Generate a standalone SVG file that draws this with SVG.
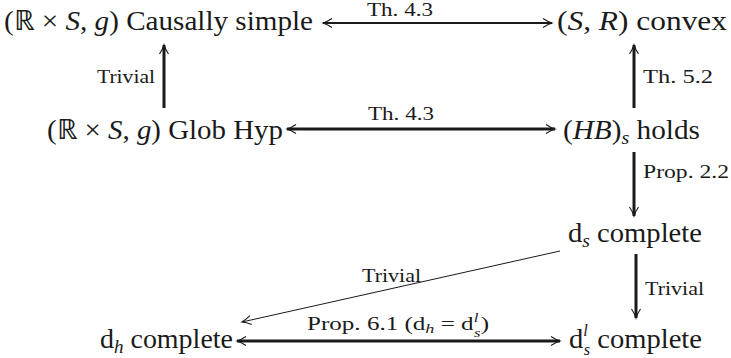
<svg xmlns="http://www.w3.org/2000/svg" width="731" height="358" viewBox="0 0 731 358">
<style>
  .t { font-family: "Liberation Serif", "Times New Roman", serif; font-size: 28px; fill: #1a1a1a; }
  .l { font-family: "Liberation Serif", "Times New Roman", serif; font-size: 18px; fill: #1a1a1a; }
  .i { font-style: italic; }
  .thick { stroke: #1a1a1a; stroke-width: 3; fill: none; }
  .mid { stroke: #1a1a1a; stroke-width: 2.2; fill: none; }
  .thin { stroke: #1a1a1a; stroke-width: 1; fill: none; }
</style>
<defs>
  <marker id="ah" markerUnits="userSpaceOnUse" markerWidth="14" markerHeight="12" viewBox="-10 -6 12 12" refX="0" refY="0" orient="auto-start-reverse">
    <path d="M -9 -4.5 Q -4 -1.2 0 0 Q -4 1.2 -9 4.5" stroke="#1a1a1a" stroke-width="1.1" fill="none"/>
  </marker>
</defs>
<rect width="731" height="358" fill="#ffffff"/>

<g id="n-causal"><text class="t" x="4" y="30" textLength="309" lengthAdjust="spacingAndGlyphs">(ℝ × <tspan class="i">S</tspan>, <tspan class="i">g</tspan>) Causally simple</text></g>
<g id="n-convex"><text class="t" x="557" y="30" textLength="170" lengthAdjust="spacingAndGlyphs">(<tspan class="i">S</tspan>, <tspan class="i">R</tspan>) convex</text></g>
<g id="n-globhyp"><text class="t" x="47" y="139" textLength="236" lengthAdjust="spacingAndGlyphs">(ℝ × <tspan class="i">S</tspan>, <tspan class="i">g</tspan>) Glob Hyp</text></g>
<g id="n-hb"><text class="t" x="563" y="139" textLength="137" lengthAdjust="spacingAndGlyphs">(<tspan class="i">HB</tspan>)<tspan class="i" font-size="19" dy="5">s</tspan><tspan dy="-5"> holds</tspan></text></g>
<g id="n-ds"><text class="t" x="568" y="242" textLength="134" lengthAdjust="spacingAndGlyphs">d<tspan class="i" font-size="19" dy="5">s</tspan><tspan dy="-5"> complete</tspan></text></g>
<g id="n-dh"><text class="t" x="100" y="348" textLength="133" lengthAdjust="spacingAndGlyphs">d<tspan class="i" font-size="19" dy="5">h</tspan><tspan dy="-5"> complete</tspan></text></g>
<g id="n-dsl"><text class="t" x="569" y="348" textLength="133" lengthAdjust="spacingAndGlyphs">d<tspan class="i" font-size="16" dy="-12">l</tspan><tspan class="i" font-size="16" dx="-4" dy="19">s</tspan><tspan dy="-7"> complete</tspan></text></g>

<g id="connectors">
  <line class="mid" x1="323" y1="23" x2="552" y2="23" marker-start="url(#ah)" marker-end="url(#ah)"/>
  <line class="thick" x1="287" y1="129" x2="555" y2="129" marker-start="url(#ah)" marker-end="url(#ah)"/>
  <line class="thick" x1="237" y1="341" x2="560" y2="341" marker-start="url(#ah)" marker-end="url(#ah)"/>
  <line class="thick" x1="164" y1="108" x2="164" y2="45" marker-end="url(#ah)"/>
  <line class="thick" x1="634" y1="108" x2="634" y2="45" marker-end="url(#ah)"/>
  <line class="thick" x1="634" y1="152" x2="634" y2="216" marker-end="url(#ah)"/>
  <line class="thick" x1="636" y1="254" x2="636" y2="318" marker-end="url(#ah)"/>
  <line class="thin" x1="560" y1="251" x2="242" y2="322" marker-end="url(#ah)"/>

  <text class="l" x="367" y="16" textLength="66" lengthAdjust="spacingAndGlyphs">Th. 4.3</text>
  <text class="l" x="368" y="120" textLength="66" lengthAdjust="spacingAndGlyphs">Th. 4.3</text>
  <text class="l" x="97" y="83" textLength="58" lengthAdjust="spacingAndGlyphs">Trivial</text>
  <text class="l" x="643" y="83" textLength="70" lengthAdjust="spacingAndGlyphs">Th. 5.2</text>
  <text class="l" x="643" y="178" textLength="86" lengthAdjust="spacingAndGlyphs">Prop. 2.2</text>
  <text class="l" x="645" y="295" textLength="59" lengthAdjust="spacingAndGlyphs">Trivial</text>
  <text class="l" x="362" y="282" textLength="59" lengthAdjust="spacingAndGlyphs">Trivial</text>
  <text class="l" x="307" y="330" textLength="182" lengthAdjust="spacingAndGlyphs">Prop. 6.1 (d<tspan class="i" font-size="13" dy="3">h</tspan><tspan dy="-3"> = d</tspan><tspan class="i" font-size="12" dy="-8">l</tspan><tspan class="i" font-size="12" dx="-3" dy="15">s</tspan><tspan dy="-7">)</tspan></text>
</g>
</svg>
